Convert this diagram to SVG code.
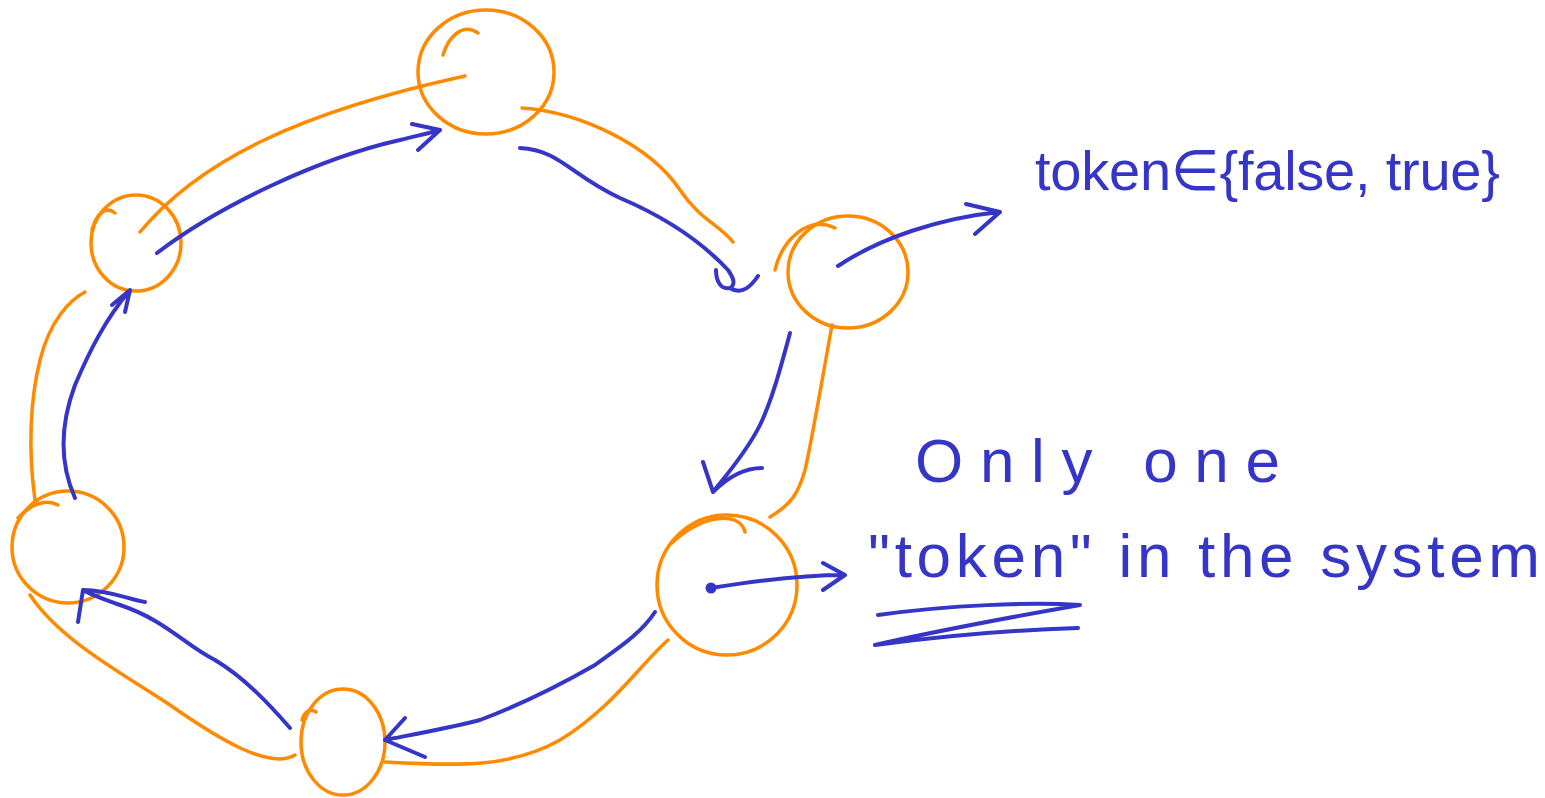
<svg xmlns="http://www.w3.org/2000/svg" width="1545" height="798" viewBox="0 0 1545 798">
<defs>
<style>
.o{fill:none;stroke:#FF8A00;stroke-width:3.5;stroke-linecap:round;stroke-linejoin:round}
.b{fill:none;stroke:#3535C8;stroke-width:4;stroke-linecap:round;stroke-linejoin:round}
.t{fill:#3535C8;font-family:"Liberation Sans","DejaVu Sans",sans-serif;font-size:62px}
</style>
</defs>
<rect width="1545" height="798" fill="#ffffff"/>
<g id="node-top">
<ellipse class="o" cx="486" cy="72" rx="68" ry="62"/>
<path class="o" d="M443,55 C448,38 462,22 478,33"/>
</g>
<g id="node-right">
<ellipse class="o" cx="848" cy="272" rx="60" ry="56"/>
<path class="o" d="M775,270 C782,240 808,215 835,228"/>
</g>
<g id="node-left-upper">
<ellipse class="o" cx="136" cy="243" rx="45" ry="48"/>
<path class="o" d="M92,230 C96,215 105,205 115,213"/>
</g>
<g id="node-left-lower">
<ellipse class="o" cx="68" cy="547" rx="56" ry="56"/>
<path class="o" d="M18,518 C30,505 45,498 58,505"/>
</g>
<g id="node-bottom">
<ellipse class="o" cx="343" cy="742" rx="42" ry="53"/>
<path class="o" d="M302,720 C304,712 310,708 316,712"/>
</g>
<g id="node-right-lower">
<ellipse class="o" cx="727" cy="585" rx="70" ry="70"/>
<path class="o" d="M672,543 C700,515 740,510 745,532"/>
<circle cx="711" cy="588" r="5.5" fill="#3535C8"/>
</g>
<g id="connectors">
<path class="o" d="M140,232 C200,160 300,112 465,76"/>
<path class="b" d="M157,253 C220,205 320,158 400,140 C420,135 430,133 440,130 M412,124 L440,130 L418,150"/>
<path class="o" d="M522,108 C580,112 650,145 680,190 C700,220 720,225 733,242"/>
<path class="b" d="M520,148 C560,150 570,175 620,198 C660,215 700,240 728,270 C735,280 735,285 730,288 C720,290 716,280 716,270 M730,288 C742,296 752,285 758,276"/>
<path class="o" d="M832,325 C822,380 812,440 805,470 C798,495 790,505 770,517"/>
<path class="b" d="M790,333 C780,370 772,400 760,425 C745,455 722,480 713,492 L703,462 M713,492 C730,475 745,468 762,468"/>
<path class="o" d="M668,640 C640,665 610,710 560,740 C510,768 460,766 385,762"/>
<path class="b" d="M655,612 C640,635 615,650 595,665 C560,685 520,705 480,720 C440,730 410,735 385,740 L405,718 M385,740 L425,757"/>
<path class="o" d="M295,755 C270,770 220,740 170,705 C120,672 60,640 30,595"/>
<path class="b" d="M290,728 C270,705 245,678 215,660 C185,645 165,620 120,605 C100,598 90,594 83,590 L78,622 M83,590 C110,590 130,600 145,602"/>
<path class="o" d="M35,500 C28,450 30,400 40,360 C50,320 70,300 85,292"/>
<path class="b" d="M75,498 C58,460 62,420 75,385 C90,350 105,320 130,290 L112,305 M130,290 L125,312"/>
<path class="b" d="M838,266 C880,238 940,218 1000,212 L966,204 M1000,212 L975,234"/>
<path class="b" d="M711,588 C760,580 800,575 845,575 L823,563 M845,575 L823,590"/>
</g>
<g id="labels">
<text class="t" x="1035" y="190" font-size="56" textLength="465" lengthAdjust="spacing" style="font-size:56px">token∈{false, true}</text>
<text class="t" x="915" y="482" textLength="365" lengthAdjust="spacing">Only   one</text>
<text class="t" x="868" y="577" textLength="672" lengthAdjust="spacing">"token"  in  the  system</text>
<path class="b" d="M878,615 C950,605 1030,602 1080,605 C1040,612 950,628 875,645 C950,635 1010,630 1078,628"/>
</g>
</svg>
